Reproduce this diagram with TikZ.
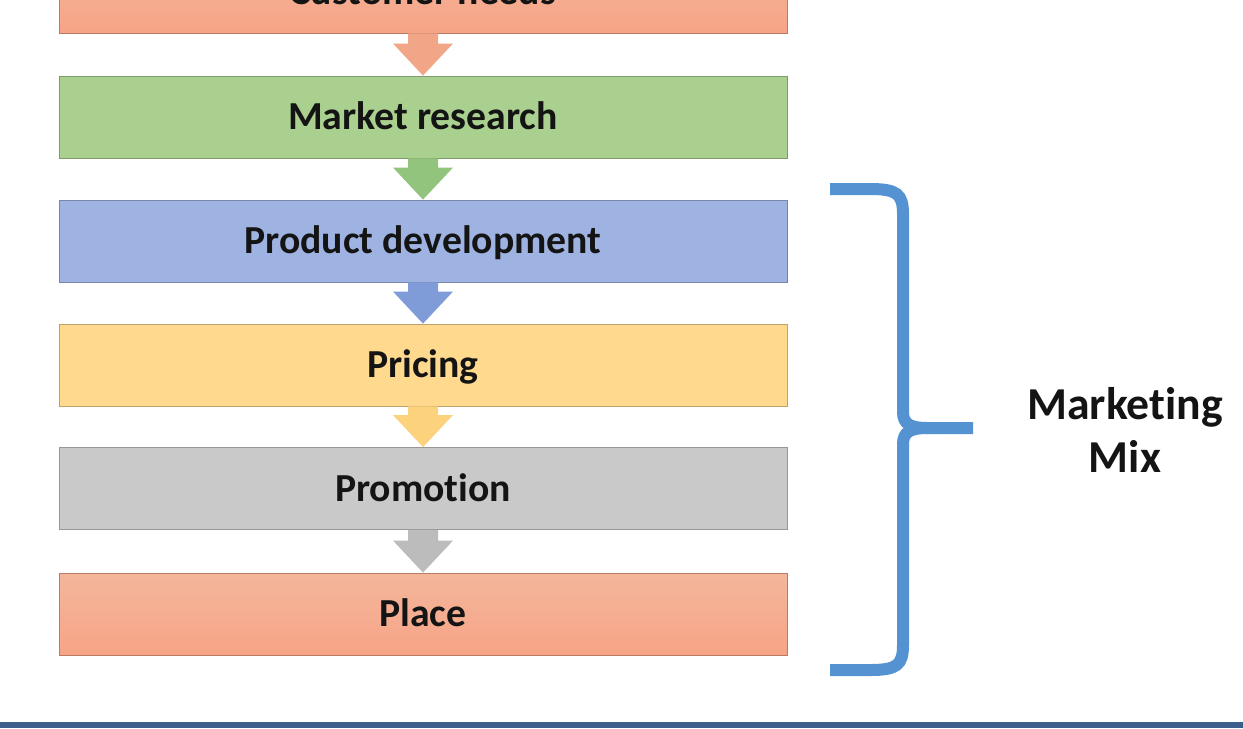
\documentclass[tikz,border=0pt]{standalone}
\usepackage{fontspec}
\setmainfont{Carlito}[Ligatures=NoCommon]
\usetikzlibrary{calc}
\definecolor{salmonT}{HTML}{F3B69C}
\definecolor{salmonB}{HTML}{F7A486}
\definecolor{salmonA}{HTML}{F2A688}
\definecolor{greenF}{HTML}{A9D08E}
\definecolor{greenA}{HTML}{93C47D}
\definecolor{blueF}{HTML}{9FB3E3}
\definecolor{blueA}{HTML}{809CD8}
\definecolor{yellowF}{HTML}{FED98E}
\definecolor{yellowA}{HTML}{FDD27C}
\definecolor{grayF}{HTML}{C9C9C9}
\definecolor{grayA}{HTML}{BCBCBC}
\definecolor{braceC}{HTML}{5592D2}
\definecolor{barC}{HTML}{3B5E8C}
\definecolor{txt}{HTML}{141414}
\tikzset{
  stepbox/.style={rectangle, minimum width=14.56cm, minimum height=1.64cm,
    inner sep=0pt, draw=#1!75!black, line width=0.5pt, fill=#1,
    font=\fontsize{22.6}{26}\selectfont\bfseries, text=txt,
    text height=14.5pt, text depth=0pt},
  salmonbox/.style={stepbox=salmonB, top color=salmonT, bottom color=salmonB},
  flowarrow/.style={fill=#1},
}
\newcommand{\flowarr}[3]{%
  \fill[flowarrow=#3] ($(#1.south)+(-15,0)$) -- ($(#2.north)+(-15,-32)$)
    -- ($(#2.north)+(-30,-32)$) -- (#2.north) -- ($(#2.north)+(30,-32)$)
    -- ($(#2.north)+(15,-32)$) -- ($(#1.south)+(15,0)$) -- cycle;}
\begin{document}
\begin{tikzpicture}[x=0.02cm,y=-0.02cm]
\useasboundingbox (0,0) rectangle (1243,728);
\clip (0,0) rectangle (1243,728);
\fill[white] (0,0) rectangle (1243,728);
\node[salmonbox] (cn) at (423,-8) {Customer needs};
\node[stepbox=greenF] (mr) at (423,117) {Market research};
\node[stepbox=blueF] (pd) at (423,241) {Product development};
\node[stepbox=yellowF] (pr) at (423,365) {Pricing};
\node[stepbox=grayF] (pm) at (423,488.5) {Promotion};
\node[salmonbox] (pl) at (423,614) {Place};
\flowarr{cn}{mr}{salmonA}
\flowarr{mr}{pd}{greenA}
\flowarr{pd}{pr}{blueA}
\flowarr{pr}{pm}{yellowA}
\flowarr{pm}{pl}{grayA}
% brace
\coordinate (bt) at (830,189);
\coordinate (bb) at (830,670);
\coordinate (bm) at (973,428);
\draw[braceC, line width=0.24cm]
  (bt) -- (870,189) .. controls (897,189) and (903,194) .. (903,214)
  -- (903,412) .. controls (903,424) and (910,428) .. (928,428) -- (bm);
\draw[braceC, line width=0.24cm]
  (928,428) .. controls (910,428) and (903,432) .. (903,444)
  -- (903,645) .. controls (903,665) and (897,670) .. (870,670) -- (bb);
\node[font=\fontsize{26}{30}\selectfont\bfseries, text=txt, align=center]
  (mix) at (1125,430) {Marketing\\Mix};
% bottom bar
\fill[barC] (0,722) rectangle (1243,728);
\end{tikzpicture}
\end{document}
